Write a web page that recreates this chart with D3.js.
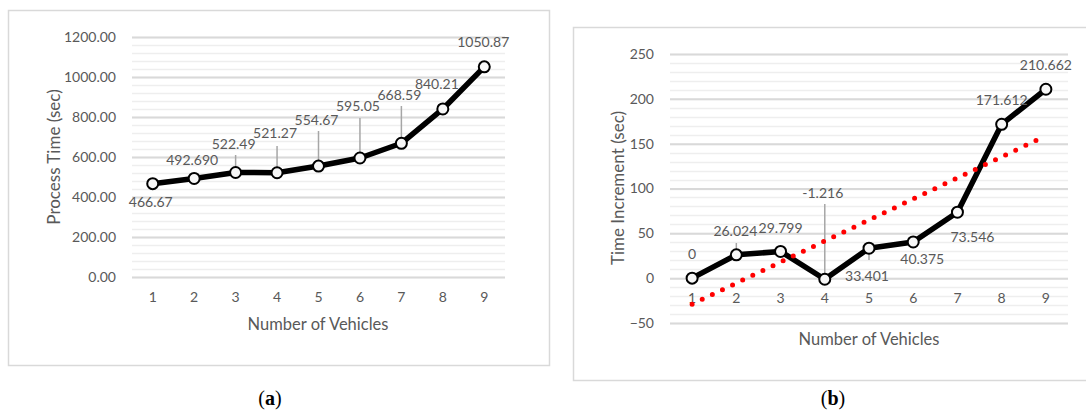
<!DOCTYPE html>
<html>
<head>
<meta charset="utf-8">
<script src="https://cdn.jsdelivr.net/npm/d3@7"></script>
<style>
  html, body { margin: 0; padding: 0; background: #fff; }
  svg { display: block; }
  text { font-family: Lato, "Open Sans", sans-serif; fill: #595959; }
</style>
</head>
<body>
<svg id="chart" width="1086" height="412"></svg>
<script>
// Shared categories
const vehicles = [1, 2, 3, 4, 5, 6, 7, 8, 9];

// Panel (a): process time
const processTime = [466.67, 492.690, 522.49, 521.27, 554.67, 595.05, 668.59, 840.21, 1050.87];
const processLabels = ["466.67", "492.690", "522.49", "521.27", "554.67", "595.05", "668.59", "840.21", "1050.87"];
const processTicks = [0, 200, 400, 600, 800, 1000, 1200];

// Panel (b): time increment
const timeIncrement = [0, 26.024, 29.799, -1.216, 33.401, 40.375, 73.546, 171.612, 210.662];
const incrementLabels = ["0", "26.024", "29.799", "-1.216", "33.401", "40.375", "73.546", "171.612", "210.662"];
const incrementTicks = [-50, 0, 50, 100, 150, 200, 250];

const svg = d3.select("#chart");

function panel(cfg) {
  const g = svg.append("g");
  // outer frame
  g.append("rect")
    .attr("x", cfg.frame[0] + 0.5).attr("y", cfg.frame[1] + 0.5)
    .attr("width", cfg.frame[2]).attr("height", cfg.frame[3])
    .attr("fill", "none").attr("stroke", "#d9d9d9").attr("stroke-width", 1.5);

  const x = d3.scaleBand().domain(vehicles).range([cfg.plot.left, cfg.plot.right]);
  const cx = d => x(d) + x.bandwidth() / 2;
  const y = d3.scaleLinear().domain(cfg.domain).range([cfg.plot.bottom, cfg.plot.top]);

  // minor gridlines
  const minor = d3.range(cfg.domain[0], cfg.domain[1] + 1e-9, cfg.minorStep);
  g.append("g").selectAll("line").data(minor).join("line")
    .attr("x1", cfg.plot.left).attr("x2", cfg.plot.right)
    .attr("y1", d => Math.round(y(d)) + 0.5).attr("y2", d => Math.round(y(d)) + 0.5)
    .attr("stroke", "#eeeeee").attr("stroke-width", 1.5);

  // major gridlines via axis
  const yAxis = d3.axisLeft(y).tickValues(cfg.ticks)
    .tickSize(-(cfg.plot.right - cfg.plot.left)).tickPadding(cfg.tickPad)
    .tickFormat(cfg.tickFormat);
  const ya = g.append("g").attr("transform", `translate(${cfg.plot.left},0)`).call(yAxis);
  ya.select(".domain").remove();
  ya.selectAll(".tick line").attr("stroke", "#d9d9d9").attr("stroke-width", 2);
  ya.selectAll(".tick text").attr("font-size", 14).attr("fill", "#595959")
    .style("font-family", "Lato, sans-serif");

  // category axis labels
  g.append("g").selectAll("text").data(vehicles).join("text")
    .attr("x", d => cx(d)).attr("y", cfg.xLabelY)
    .attr("text-anchor", "middle").attr("dominant-baseline", "central")
    .attr("font-size", 14).text(d => d);

  // titles
  g.append("text").attr("x", cfg.xTitle[0]).attr("y", cfg.xTitle[1])
    .attr("text-anchor", "middle").attr("dominant-baseline", "central")
    .attr("font-size", 16.5).text("Number of Vehicles");
  g.append("text")
    .attr("transform", `translate(${cfg.yTitle[0]},${cfg.yTitle[1]}) rotate(-90)`)
    .attr("text-anchor", "middle").attr("dominant-baseline", "central")
    .attr("font-size", 17).text(cfg.yTitleText);

  // leader lines
  g.append("g").selectAll("line").data(cfg.leaders).join("line")
    .attr("x1", d => cx(vehicles[d.i])).attr("x2", d => cx(vehicles[d.i]))
    .attr("y1", d => d.y0).attr("y2", d => y(cfg.values[d.i]))
    .attr("stroke", "#a6a6a6").attr("stroke-width", 1.5);

  // series line
  g.append("path").datum(cfg.values)
    .attr("d", d3.line().x((d, i) => cx(vehicles[i])).y(d => y(d)))
    .attr("fill", "none").attr("stroke", "#000").attr("stroke-width", 5.5)
    .attr("stroke-linejoin", "round");

  // markers
  g.append("g").selectAll("circle").data(cfg.values).join("circle")
    .attr("cx", (d, i) => cx(vehicles[i])).attr("cy", d => y(d))
    .attr("r", 5.5).attr("fill", "#f7f7f7").attr("stroke", "#000").attr("stroke-width", 2);

  // optional linear trendline (least squares over the series), drawn on top
  if (cfg.trend) {
    const n = vehicles.length;
    const mx = d3.mean(vehicles), my = d3.mean(cfg.values);
    const sxy = d3.sum(vehicles, (v, i) => (v - mx) * (cfg.values[i] - my));
    const sxx = d3.sum(vehicles, v => (v - mx) * (v - mx));
    const slope = sxy / sxx, icpt = my - slope * mx;
    const ends = [vehicles[0], vehicles[n - 1]];
    g.append("line")
      .attr("x1", cx(ends[0])).attr("y1", y(icpt + slope * ends[0]))
      .attr("x2", cx(ends[1])).attr("y2", y(icpt + slope * ends[1]))
      .attr("stroke", "#ff0000").attr("stroke-width", 5)
      .attr("stroke-linecap", "round").attr("stroke-dasharray", "0 11.2");
  }

  // value labels, offset from their points
  g.append("g").selectAll("text").data(cfg.labels).join("text")
    .attr("x", (d, i) => cx(vehicles[i]) + cfg.labelPos[i][0])
    .attr("y", (d, i) => y(cfg.values[i]) + cfg.labelPos[i][1])
    .attr("text-anchor", "middle").attr("dominant-baseline", "central")
    .attr("font-size", 14).text(d => d);

  // caption
  const cap = svg.append("text").attr("x", cfg.caption[0]).attr("y", cfg.caption[1])
    .attr("text-anchor", "middle").attr("dominant-baseline", "central")
    .style("font-family", "'Liberation Serif', 'DejaVu Serif', serif")
    .style("fill", "#000").attr("font-size", 20);
  cap.append("tspan").text("(");
  cap.append("tspan").attr("font-weight", "bold").text(cfg.captionLetter);
  cap.append("tspan").text(")");
}

panel({
  frame: [8, 10, 541, 355],
  plot: { left: 132, right: 505, top: 37, bottom: 277 },
  domain: [0, 1200], minorStep: 40, ticks: processTicks,
  tickFormat: d3.format(".2f"), tickPad: 16,
  xLabelY: 296, xTitle: [318, 324], yTitle: [53, 157], yTitleText: "Process Time (sec)",
  values: processTime, labels: processLabels,
  labelPos: [[-2, 18], [-2, -19], [-2, -29], [-2, -40], [-2, -47], [-2, -52], [-2, -49], [-6, -25], [-1, -25]],
  leaders: [{ i: 2, y0: 155 }, { i: 3, y0: 146 }, { i: 4, y0: 131 }, { i: 5, y0: 118 }, { i: 6, y0: 106 }],
  caption: [270, 398], captionLetter: "a"
});

panel({
  frame: [573, 27, 530, 353],
  plot: { left: 670, right: 1068, top: 54, bottom: 323 },
  domain: [-50, 250], minorStep: 10, ticks: incrementTicks,
  tickFormat: d3.format("d"), tickPad: 16,
  xLabelY: 297, xTitle: [869, 339], yTitle: [617, 188], yTitleText: "Time Increment (sec)",
  values: timeIncrement, labels: incrementLabels, trend: true,
  labelPos: [[0, -25], [-1, -24], [0, -24], [-2, -87], [-2, 27], [9, 17], [15, 24], [0, -25], [0, -25]],
  leaders: [{ i: 1, y0: 243 }, { i: 3, y0: 204 }, { i: 4, y0: 260 }],
  caption: [833, 398], captionLetter: "b"
});
</script>
</body>
</html>
